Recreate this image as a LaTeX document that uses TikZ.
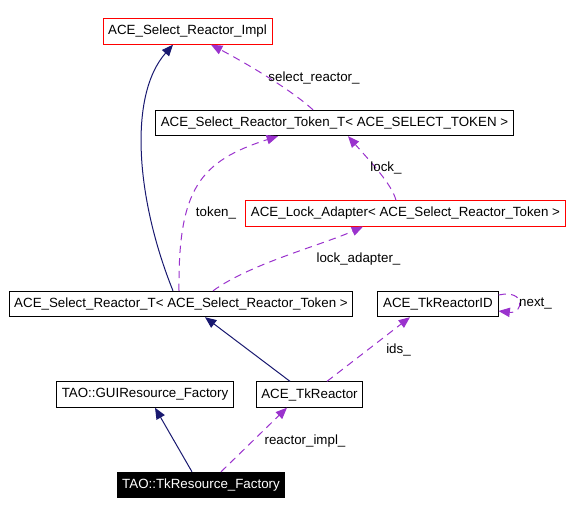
\documentclass[tikz,border=0pt]{standalone}
\usepackage{fontspec}
\setmainfont{Liberation Sans}
\usetikzlibrary{arrows.meta,calc}

\definecolor{inhnavy}{RGB}{25,25,112}
\definecolor{usepurple}{RGB}{154,50,205}

\tikzset{every picture/.style={line width=0.75pt}}
\tikzset{
	cls/.style={draw=black, fill=white, font=\fontsize{10}{12}\selectfont, inner xsep=3.9pt, inner ysep=0pt, minimum height=19pt},
	clsred/.style={cls, draw=red},
	clsmain/.style={cls, fill=black, text=white},
	lbl/.style={font=\fontsize{10}{12}\selectfont, inner sep=0pt},
	inh/.style={draw=inhnavy, -{Triangle[length=8.5pt,width=7pt]}},
	uses/.style={draw=usepurple, dash pattern=on 5.5pt off 4pt, -{Triangle[length=8.5pt,width=7pt]}}}

\begin{document}
\begin{tikzpicture}[x=0.75pt,y=0.75pt,yscale=-1,xscale=1]
	\useasboundingbox (0,0) rectangle (574,515);

	% Class Node
	\node[clsred] (impl) at (187.5,31.5) {ACE\_Select\_Reactor\_Impl};
	% Class Node
	\node[cls] (tokent) at (334.5,123) {ACE\_Select\_Reactor\_Token\_T< ACE\_SELECT\_TOKEN >};
	% Class Node
	\node[clsred] (lockad) at (405.5,213.5) {ACE\_Lock\_Adapter< ACE\_Select\_Reactor\_Token >};
	% Class Node
	\node[cls] (selt) at (181,304) {ACE\_Select\_Reactor\_T< ACE\_Select\_Reactor\_Token >};
	% Class Node
	\node[cls] (tkid) at (438,304) {ACE\_TkReactorID};
	% Class Node
	\node[cls] (gui) at (145,394.5) {TAO::GUIResource\_Factory};
	% Class Node
	\node[cls] (tkr) at (309.5,394.5) {ACE\_TkReactor};
	% Class Node
	\node[clsmain] (tkrf) at (201,485) {TAO::TkResource\_Factory};

	% Inheritance
	\draw[inh] ($(selt.north)+(-8,0)$) .. controls +(-37,-92) and +(-45,51) .. ($(impl.south)+(-14.5,0)$);
	\draw[inh] ($(tkr.north)+(-19.5,0)$) -- ($(selt.south)+(24,0)$);
	\draw[inh] ($(tkrf.north)+(-9,0)$) -- ($(gui.south)+(10,0)$);

	% Usage
	\draw[uses] ($(tokent.north)+(-21.5,0)$) .. controls +(-23,-21) and +(34,18) .. ($(impl.south)+(23.5,0)$);
	\draw[uses] ($(selt.north)+(-2,0)$) .. controls +(-1,-102) and +(-78,25) .. ($(tokent.south)+(-56.5,0)$);
	\draw[uses] ($(lockad.north)+(-9.5,0)$) .. controls +(-4,-16) and +(22,25) .. ($(tokent.south)+(13.5,0)$);
	\draw[uses] ($(selt.north)+(32,0)$) .. controls +(37,-27) and +(-43,19) .. ($(lockad.south)+(-42.5,0)$);
	\draw[uses] ($(tkid.east)+(0,-9)$) .. controls +(28,-6) and +(25,3) .. ($(tkid.east)+(0,7)$);
	\draw[uses] ($(tkr.north)+(17.5,0)$) -- ($(tkid.south)+(-28,0)$);
	\draw[uses] ($(tkrf.north)+(20,0)$) -- ($(tkr.south)+(-22.5,0)$);

	% Text Node
	\node[lbl] (lselr) at (314,78) {select\_reactor\_};
	% Text Node
	\node[lbl] (ltok) at (216,213) {token\_};
	% Text Node
	\node[lbl] (llock) at (386,168) {lock\_};
	% Text Node
	\node[lbl] (llad) at (358.5,259) {lock\_adapter\_};
	% Text Node
	\node[lbl] (lnext) at (535.5,304) {next\_};
	% Text Node
	\node[lbl] (lids) at (398.5,350) {ids\_};
	% Text Node
	\node[lbl] (lrimpl) at (305,441) {reactor\_impl\_};

\end{tikzpicture}
\end{document}
